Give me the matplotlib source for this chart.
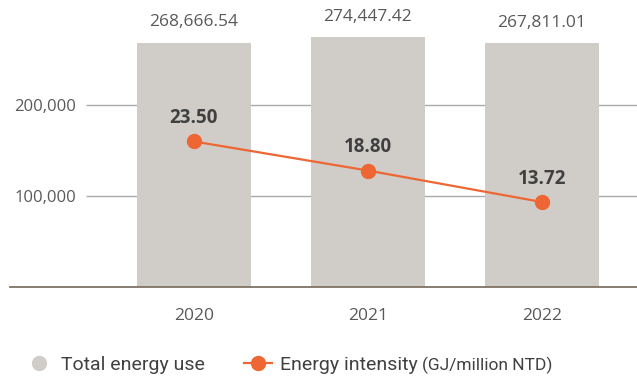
import numpy as np
import matplotlib.pyplot as plt
from matplotlib.lines import Line2D

years = ["2020", "2021", "2022"]
total_energy = [268666.54, 274447.42, 267811.01]
intensity = [23.50, 18.80, 13.72]
energy_ticks = [100000, 200000]

BAR_COLOR = "#D0CDC8"
LINE_COLOR = "#EE6633"
TEXT_DARK = "#404040"
TEXT_GREY = "#595959"

fig = plt.figure(figsize=(6.37, 3.79), dpi=100)
ax = fig.add_axes([10 / 637, 0.2427, 627 / 637, 0.7322])
x = np.arange(len(years))

ax.set_xlim(-1.057, 2.546)
ax.set_ylim(0, 305000)

# gridlines start right of the tick labels and sit behind the bars
ax.hlines(energy_ticks, -0.621, 2.546, color="#ABABAB", lw=1.0, zorder=1)
bars = ax.bar(x, total_energy, width=0.655, color=BAR_COLOR, zorder=2)
for xi, v in zip(x, total_energy):
    ax.annotate(f"{v:,.2f}", (xi, v), xytext=(0, 9), textcoords="offset points",
                ha="center", va="bottom", fontsize=12.5, color=TEXT_GREY,
                family="Open Sans")

ax.set_xticks(x)
ax.set_xticklabels(years, fontsize=12.5, color=TEXT_GREY, family="Open Sans")
ax.set_yticks(energy_ticks)
ax.set_yticklabels([f"{t:,}" for t in energy_ticks], fontsize=12,
                   color=TEXT_GREY, family="Open Sans")
ax.tick_params(axis="x", length=0, pad=15)
ax.tick_params(axis="y", length=0, pad=-47.5)
for s in ["top", "right", "left"]:
    ax.spines[s].set_visible(False)
ax.spines["bottom"].set_color("#7F7366")
ax.spines["bottom"].set_linewidth(1.3)
ax.set_facecolor("none")

ax2 = ax.twinx()
ax2.set_ylim(0, 44.8)
ax2.plot(x, intensity, color=LINE_COLOR, lw=1.6, marker="o", markersize=10,
         zorder=3)
for xi, v in zip(x, intensity):
    ax2.annotate(f"{v:.2f}", (xi, v), xytext=(0, 9.5), textcoords="offset points",
                 ha="center", va="bottom", fontsize=13.5, fontweight="bold",
                 color=TEXT_DARK, family="Open Sans")
ax2.axis("off")

handles = [
    Line2D([], [], ls="none", marker="o", markersize=10, color=BAR_COLOR),
    Line2D([], [], color=LINE_COLOR, lw=1.6, marker="o", markersize=10),
]
leg = fig.legend(handles, ["Total energy use", "Energy intensity"],
                 loc="center left", bbox_to_anchor=(25 / 637, 1 - 365 / 379),
                 ncol=2, frameon=False, borderpad=0, borderaxespad=0,
                 handlelength=1.45, handletextpad=0.4, columnspacing=2.0,
                 prop={"family": "Roboto", "size": 14})
for t in leg.get_texts():
    t.set_color(TEXT_DARK)

# unit part of the second label is set in a smaller size
fig.canvas.draw()
bb = leg.get_texts()[1].get_window_extent()
fig.text((bb.x1 + 5) / 637, (bb.y0 + bb.y1) / 2 / 379, "(GJ/million NTD)",
         ha="left", va="center", fontsize=12.5, family="Roboto",
         color=TEXT_DARK)

fig.savefig("out.png", dpi=100)
